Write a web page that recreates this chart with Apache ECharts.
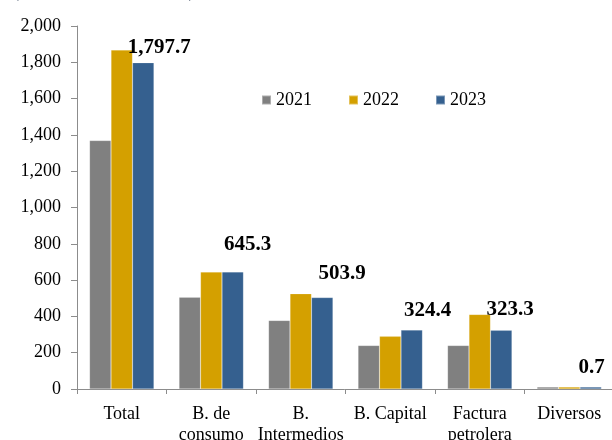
<!DOCTYPE html>
<html>
<head>
<meta charset="utf-8">
<script src="https://cdn.jsdelivr.net/npm/echarts@6/dist/echarts.min.js"></script>
<style>html,body{margin:0;padding:0;background:#fff}#c{width:612px;height:440px}</style>
</head>
<body>
<div id="c"></div>
<script>
var categories = ['Total', 'B. de\nconsumo', 'B.\nIntermedios', 'B. Capital', 'Factura\npetrolera', 'Diversos'];
var years = ['2021', '2022', '2023'];
var values2021 = [1369, 506, 378, 240, 240, 6];
var values2022 = [1868, 644, 525, 290, 411, 5];
var values2023 = [1797.7, 645.3, 503.9, 324.4, 323.3, 0.7];
var yTicks = [0, 200, 400, 600, 800, 1000, 1200, 1400, 1600, 1800, 2000];
var unitText = '(Millones de US dólares)';

var colors = ['#808080', '#D4A000', '#35608F'];
var labelOffsets = [[16, 0], [15, -12], [20, -8], [16, -4], [9, -5], [1, -4]];
var serif = '"Liberation Serif", "Times New Roman", serif';

function fmt(v) {
  return v.toLocaleString('en-US', {minimumFractionDigits: 1, maximumFractionDigits: 1});
}

var chart = echarts.init(document.getElementById('c'));
var seriesData = [values2021, values2022, values2023];
var series = seriesData.map(function (vals, i) {
  var s = {
    name: years[i],
    type: 'bar',
    barGap: '0%',
    barCategoryGap: '28%',
    barMinHeight: 2,
    itemStyle: {color: colors[i], borderColor: 'rgba(255,255,255,0.35)', borderWidth: 0.5},
    data: vals.map(function (v, j) {
      var d = {value: v};
      if (i === 2) {
        d.label = {show: true, position: 'top', offset: labelOffsets[j]};
      }
      return d;
    })
  };
  if (i === 2) {
    s.label = {
      show: true,
      fontFamily: serif,
      fontWeight: 'bold',
      fontSize: 21,
      color: '#000',
      formatter: function (p) { return fmt(p.value); }
    };
  }
  return s;
});

chart.setOption({
  animation: false,
  graphic: [{
    type: 'text',
    left: 13,
    top: -17,
    style: {text: unitText, font: '18px ' + serif, fill: '#44546A'}
  }],
  legend: {
    data: years,
    left: 256,
    top: 86,
    itemWidth: 9,
    itemHeight: 9,
    itemGap: 36,
    icon: 'rect',
    textStyle: {fontFamily: serif, fontSize: 18, color: '#000', padding: [0, 0, 0, 0]}
  },
  grid: {left: 77, top: 26, width: 537, height: 363, containLabel: false, outerBoundsMode: 'none'},
  xAxis: {
    type: 'category',
    data: categories,
    axisLine: {lineStyle: {color: '#8C8C8C', width: 1}},
    axisTick: {show: true, length: 5, lineStyle: {color: '#8C8C8C'}},
    axisLabel: {fontFamily: serif, fontSize: 18, color: '#000', margin: 15, lineHeight: 21, interval: 0}
  },
  yAxis: {
    type: 'value',
    min: yTicks[0],
    max: yTicks[yTicks.length - 1],
    interval: yTicks[1] - yTicks[0],
    splitLine: {show: false},
    axisLine: {show: true, lineStyle: {color: '#8C8C8C', width: 1}},
    axisTick: {show: true, length: 6, lineStyle: {color: '#8C8C8C'}},
    axisLabel: {
      fontFamily: serif, fontSize: 18, color: '#000', margin: 16,
      formatter: function (v) { return v.toLocaleString('en-US'); }
    }
  },
  series: series
});
</script>
</body>
</html>
